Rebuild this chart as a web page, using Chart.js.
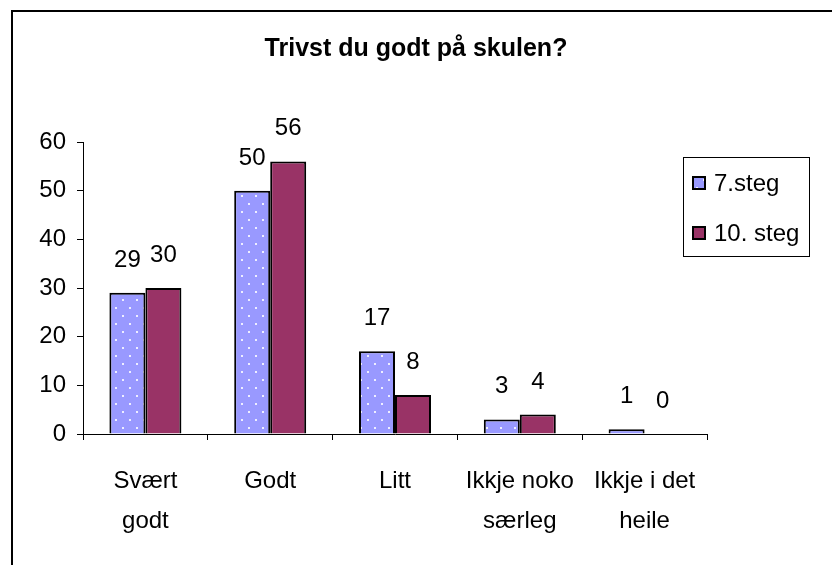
<!DOCTYPE html>
<html lang="no">
<head>
<meta charset="UTF-8">
<title>Trivst du godt på skulen?</title>
<script src="https://cdn.jsdelivr.net/npm/chart.js"></script>
<style>
    html, body { margin: 0; padding: 0; background: #fff; }
    canvas { display: block; }
</style>
</head>
<body>
<canvas id="trivselChart" width="832" height="565"></canvas>
<script>
// data
var categories = [['Svært', 'godt'], ['Godt'], ['Litt'], ['Ikkje noko', 'særleg'], ['Ikkje i det', 'heile']];
var seriesNames = ['7.steg', '10. steg'];
var steg7 = [29, 50, 17, 3, 1];
var steg10 = [30, 56, 8, 4, 0];
var yTicks = [0, 10, 20, 30, 40, 50, 60];

var FONT = "'Liberation Sans', Arial, sans-serif";

// blue fill with small white dots, like the Excel pattern
function dotPattern() {
    var c = document.createElement('canvas');
    c.width = 14;
    c.height = 16;
    var g = c.getContext('2d');
    g.fillStyle = '#9999FF';
    g.fillRect(0, 0, 14, 16);
    g.fillStyle = '#eeeeff';
    g.fillRect(3, 3, 2, 2);
    g.fillRect(10, 11, 2, 2);
    return g.createPattern(c, 'repeat');
}

var ctx = document.getElementById('trivselChart').getContext('2d');
var bluePattern = dotPattern();

// frame, title, value labels and the boxed legend
var extras = {
    id: 'extras',
    afterDraw: function (chart) {
        var c = chart.ctx;
        c.save();
        c.strokeStyle = '#000';
        c.lineWidth = 2;
        c.beginPath();
        c.moveTo(12, 565);
        c.lineTo(12, 11);
        c.lineTo(832, 11);
        c.stroke();

        c.fillStyle = '#000';
        c.font = 'bold 25px ' + FONT;
        c.textAlign = 'center';
        c.textBaseline = 'middle';
        c.fillText('Trivst du godt på skulen?', 416, 49);

        c.font = '24px ' + FONT;
        c.textBaseline = 'alphabetic';
        chart.data.datasets.forEach(function (ds, i) {
            chart.getDatasetMeta(i).data.forEach(function (bar, j) {
                c.fillText(String(ds.data[j]), bar.x, bar.y - 26);
            });
        });

        // legend
        c.lineWidth = 1;
        c.strokeRect(683.5, 157.5, 126, 99);
        chart.data.datasets.forEach(function (ds, i) {
            var cy = 183 + i * 50;
            c.fillStyle = ds.backgroundColor;
            c.fillRect(693, cy - 6, 12, 12);
            c.lineWidth = 2;
            c.strokeRect(693, cy - 6, 12, 12);
            c.fillStyle = '#000';
            c.textAlign = 'left';
            c.textBaseline = 'middle';
            c.fillText(ds.label, 714, cy + 1);
        });
        c.restore();
    }
};

var chart = new Chart(ctx, {
    type: 'bar',
    data: {
        labels: categories,
        datasets: [{
            label: seriesNames[0],
            data: steg7,
            backgroundColor: bluePattern,
            borderColor: '#000',
            borderWidth: 2,
            borderSkipped: 'bottom'
        }, {
            label: seriesNames[1],
            data: steg10,
            backgroundColor: '#993366',
            borderColor: '#000',
            borderWidth: 2,
            borderSkipped: 'bottom'
        }]
    },
    options: {
        responsive: false,
        animation: false,
        categoryPercentage: 0.577,
        barPercentage: 1,
        layout: { padding: { left: 12, top: 142, right: 125, bottom: 0 } },
        plugins: {
            legend: { display: false },
            title: { display: false },
            tooltip: { enabled: false }
        },
        scales: {
            x: {
                grid: { display: true, drawOnChartArea: false, tickLength: 6, color: '#000', offset: true },
                border: { color: '#000', width: 1 },
                ticks: { color: '#000', font: { family: FONT, size: 24, lineHeight: 1.67 }, padding: 21, maxRotation: 0, autoSkip: false },
                afterFit: function (s) { s.height = 131; }
            },
            y: {
                min: 0,
                max: 60,
                afterBuildTicks: function (s) { s.ticks = yTicks.map(function (v) { return { value: v }; }); },
                grid: { display: true, drawOnChartArea: false, tickLength: 6, color: '#000' },
                border: { color: '#000', width: 1 },
                ticks: { color: '#000', font: { family: FONT, size: 24 }, padding: 11 },
                afterFit: function (s) { s.width = 71; }
            }
        }
    },
    plugins: [extras]
});
</script>
</body>
</html>
